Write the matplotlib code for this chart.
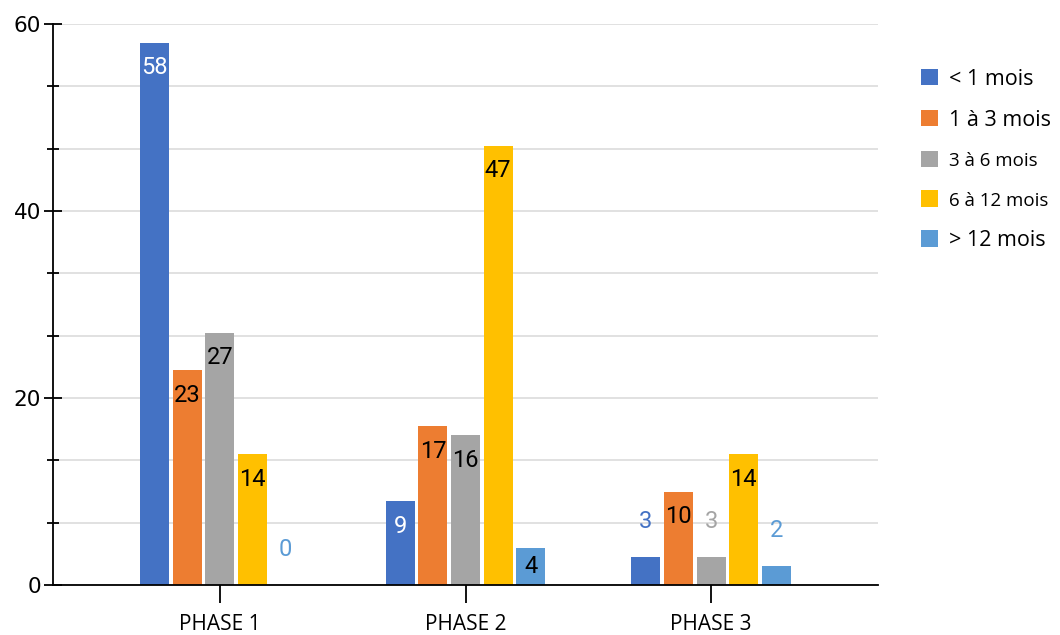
import matplotlib
matplotlib.use("Agg")
import matplotlib.pyplot as plt
import numpy as np
from matplotlib.ticker import MultipleLocator

categories = ["PHASE 1", "PHASE 2", "PHASE 3"]
series_names = ["< 1 mois", "1 à 3 mois", "3 à 6 mois", "6 à 12 mois", "> 12 mois"]
v_lt1 = [58, 9, 3]
v_1to3 = [23, 17, 10]
v_3to6 = [27, 16, 3]
v_6to12 = [14, 47, 14]
v_gt12 = [0, 4, 2]
values = [v_lt1, v_1to3, v_3to6, v_6to12, v_gt12]
colors = ["#4472C4", "#ED7D31", "#A5A5A5", "#FFC000", "#5B9BD5"]
inside_colors = ["white", "black", "black", "black", "black"]

fig = plt.figure(figsize=(10.6, 6.35), dpi=100)
ax = fig.add_axes([53/1060, 1-585/635, (878-53)/1060, (585-24)/635])

x = np.arange(len(categories))
pitch = 0.1327
width = 0.118
for i, (name, vals, c) in enumerate(zip(series_names, values, colors)):
    xs = x + (i - 2) * pitch
    ax.bar(xs, vals, width=width, color=c, label=name, zorder=3)
    for xi, v in zip(xs, vals):
        if v >= 4:
            ax.text(xi, max(v - 2.7, v / 2), str(v), ha="center", va="center",
                    color=inside_colors[i], fontsize=17, family="Roboto", zorder=4)
        else:
            ax.text(xi, v + 3.8, str(v), ha="center", va="center",
                    color=c, fontsize=17, family="Roboto", zorder=4)

ax.set_xlim(-0.5 - 0.18, 2.5 + 0.18)
ax.set_ylim(0, 60)
ax.yaxis.set_major_locator(MultipleLocator(20))
ax.yaxis.set_minor_locator(MultipleLocator(20/3))
ax.set_xticks(x)
ax.set_xticklabels(categories, family="Open Sans", fontsize=15)
ax.tick_params(axis="x", direction="out", length=13, width=1.3, pad=8)
ax.tick_params(axis="y", which="major", direction="inout", length=13, width=1.3,
               labelsize=15.5, pad=2)
ax.tick_params(axis="y", which="minor", direction="inout", length=9, width=1.3)
for lab in ax.get_yticklabels():
    lab.set_family("DejaVu Sans")

ax.grid(True, axis="y", which="both", color="#d9d9d9", linewidth=1.1, zorder=0)
ax.set_axisbelow(True)
for s in ["top", "right"]:
    ax.spines[s].set_visible(False)
ax.spines["left"].set_linewidth(1.3)
ax.spines["bottom"].set_linewidth(1.3)
ax.spines["left"].set_zorder(5)
ax.spines["bottom"].set_zorder(5)

leg = ax.legend(loc="upper left", bbox_to_anchor=(912/1060, 1-60/635),
                bbox_transform=fig.transFigure, frameon=False,
                prop={"family": "Open Sans", "size": 15.5},
                handlelength=0.8, handleheight=0.8, handletextpad=0.5,
                labelspacing=0.93, borderaxespad=0)
small = {"3 à 6 mois", "6 à 12 mois"}
for t in leg.get_texts():
    if t.get_text() in small:
        t.set_fontsize(13.5)

fig.savefig("out.png", dpi=100)
